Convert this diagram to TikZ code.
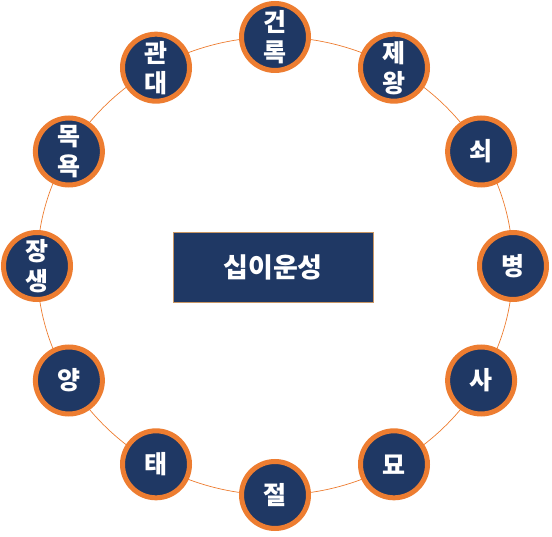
\documentclass[tikz,border=0pt]{standalone}
\usepackage{fontspec}
\setmainfont{Noto Sans CJK KR}
\definecolor{navyblue}{HTML}{1F3864}
\definecolor{ringorange}{HTML}{ED7D31}
\definecolor{boxline}{RGB}{200,150,100}

\begin{document}
\begin{tikzpicture}[x=1pt,y=1pt,
    stage/.style={circle, draw=ringorange, line width=5pt, fill=navyblue,
      minimum size=67pt, inner sep=0pt, text=white, align=center,
      font=\bfseries\fontsize{25}{30}\selectfont},
    title/.style={rectangle, draw=boxline, line width=0.8pt, fill=navyblue,
      minimum width=200pt, minimum height=70pt, text=white,
      font=\bfseries\fontsize{27}{32}\selectfont}]
    % frame
    \useasboundingbox (0,0) rectangle (552,536);
    \coordinate (c) at (275,270);

    % ring
    \draw[ringorange, line width=0.7pt] (c) ellipse [x radius=238, y radius=229];

    % twelve stages
    \foreach \a/\t [count=\i] in {90/건\\록, 60/제\\왕, 30/쇠, 0/병, -30/사, -60/묘,
        -90/절, -120/태, -150/양, 180/장\\생, 150/목\\욕, 120/관\\대}
      \node[stage] (s\i) at ([shift={(\a:238 and 229)}]c) {\t};

    % centre
    \node[title] (title) at (273,269) {십이운성};
\end{tikzpicture}
\end{document}
